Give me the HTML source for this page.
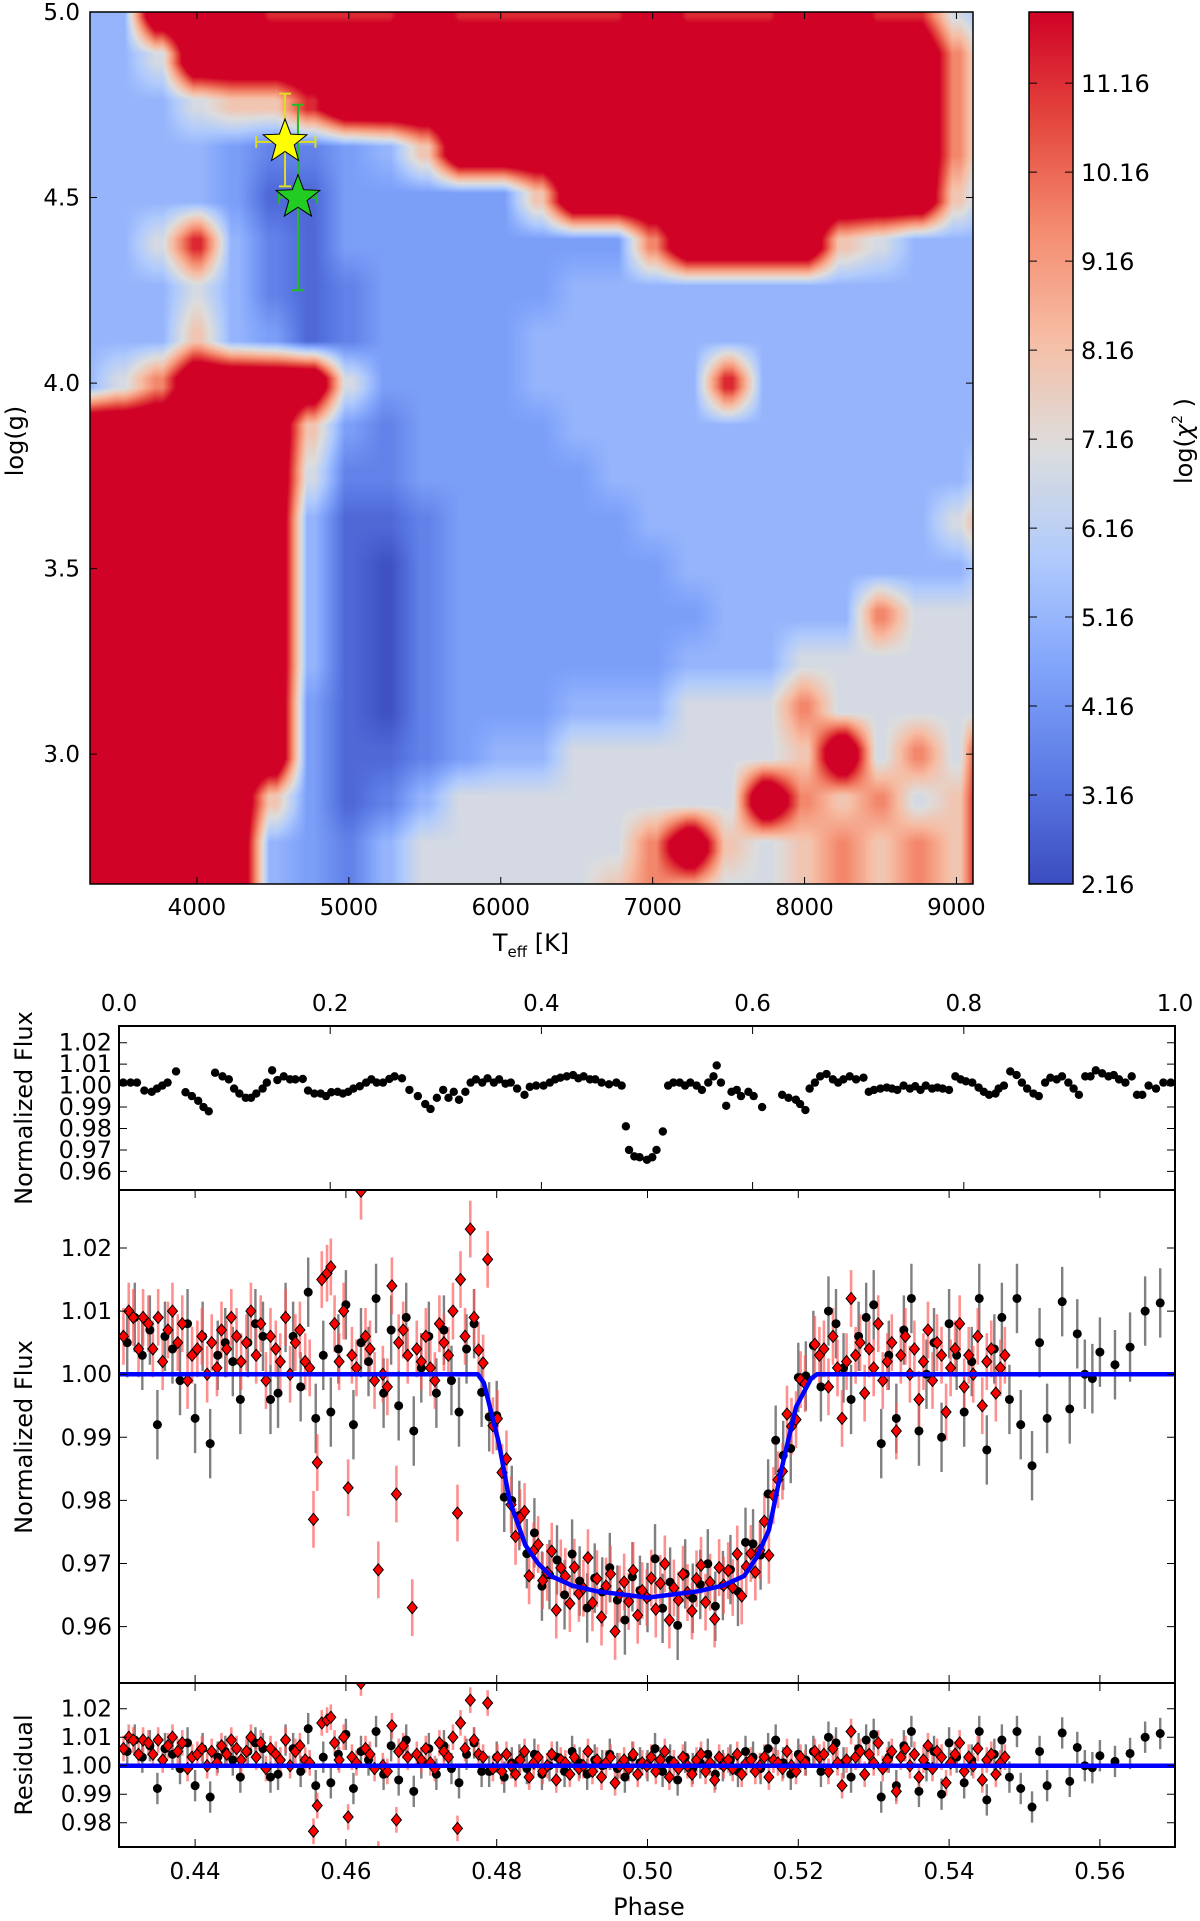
<!DOCTYPE html>
<html><head><meta charset="utf-8">
<style>
html,body{margin:0;padding:0;background:#fff;}
#wrap{position:relative;width:1200px;height:1921px;overflow:hidden;font-family:"DejaVu Sans","Liberation Sans",sans-serif;}
canvas{position:absolute;}
svg{position:absolute;left:0;top:0;}
text{font-family:"DejaVu Sans","Liberation Sans",sans-serif;fill:#000;}
</style></head>
<body>
<div id="wrap">
<canvas id="heat" width="883" height="872" style="left:90px;top:12px"></canvas>
<canvas id="cbar" width="44" height="872" style="left:1029px;top:12px"></canvas>
<svg id="chart" width="1200" height="1921"></svg>
</div>
<script>
// ---------- heatmap data ----------
const teffGrid=[3250,3500,3750,4000,4250,4500,4750,5000,5250,5500,5750,6000,6250,6500,6750,7000,7250,7500,7750,8000,8250,8500,8750,9000,9250];
const loggGrid=[5.0,4.875,4.75,4.625,4.5,4.375,4.25,4.125,4.0,3.875,3.75,3.625,3.5,3.375,3.25,3.125,3.0,2.875,2.75,2.625,2.5];
const levelValues=[2.3,2.9,3.6,4.4,5.1,6.8,8.0,9.6,11.3,15];
const r5000=[4,4,9,9,9,8,8,8,8,9,8,8,8,8,8,9,8,8,8,9,9,8,8,5,4];
const r4875=[4,4,5,9,9,9,9,9,9,9,9,9,9,9,9,9,9,9,9,9,9,9,9,7,4];
const r4750=[4,4,4,5,6,6,8,9,9,9,9,9,9,9,9,9,9,9,9,9,9,9,9,7,4];
const r4625=[4,4,4,4,3,2,2,3,4,6,9,9,9,9,9,9,9,9,9,9,9,9,9,7,4];
const r4500=[4,4,4,4,3,1,1,3,3,3,3,3,6,9,9,9,9,9,9,9,9,9,9,6,4];
const r4375=[4,4,5,8,4,2,1,3,3,3,3,3,3,3,3,7,9,9,9,9,6,5,4,4,4];
const r4250=[4,4,4,5,4,2,1,2,3,3,3,3,3,4,4,4,4,4,4,4,4,4,4,4,4];
const r4125=[4,4,4,6,4,3,1,2,3,3,3,3,4,4,4,4,4,4,4,4,4,4,4,4,4];
const r4000=[4,5,7,9,9,9,9,5,3,3,3,3,4,4,4,4,4,8,4,4,4,4,4,4,4];
const r3875=[9,9,9,9,9,9,6,3,2,3,3,3,3,4,4,4,4,4,4,4,4,4,4,4,4];
const r3750=[9,9,9,9,9,9,5,2,2,3,3,3,3,3,4,4,4,4,4,4,4,4,4,4,5];
const r3625=[9,9,9,9,9,9,4,1,1,2,3,3,3,3,3,4,4,4,4,4,4,4,4,5,7];
const r3500=[9,9,9,9,9,9,4,1,0,2,3,3,3,3,3,3,4,4,4,4,4,4,4,4,5];
const r3375=[9,9,9,9,9,9,4,1,0,2,3,3,3,3,3,3,3,4,4,4,4,7,5,5,5];
const r3250=[9,9,9,9,9,9,4,1,0,2,3,3,3,3,3,3,4,4,4,5,5,5,5,5,5];
const r3125=[9,9,9,9,9,9,3,1,0,2,3,3,3,4,4,4,5,5,5,7,5,5,5,5,5];
const r3000=[9,9,9,9,9,9,3,1,1,2,3,4,4,5,5,5,5,5,5,6,9,5,7,5,9];
const r2875=[9,9,9,9,9,6,3,1,2,4,5,5,5,5,5,5,5,5,9,7,6,7,5,6,9];
const r2750=[9,9,9,9,9,4,3,2,4,5,5,5,5,5,5,7,9,6,5,6,7,6,7,6,9];
const r2625=[9,9,9,9,9,4,3,2,4,5,5,5,5,5,6,7,6,5,5,6,7,6,7,6,9];
const r2500=[9,9,9,9,9,4,3,2,4,5,5,5,5,5,6,7,6,5,5,6,7,6,7,6,9];
const chiRows=[r5000,r4875,r4750,r4625,r4500,r4375,r4250,r4125,r4000,r3875,r3750,r3625,r3500,r3375,r3250,r3125,r3000,r2875,r2750,r2625,r2500];
const cbarTicks=[2.16,3.16,4.16,5.16,6.16,7.16,8.16,9.16,10.16,11.16];
const teffTicks=[4000,5000,6000,7000,8000,9000];
const loggTicks=[3.0,3.5,4.0,4.5,5.0];
// stars: [teff, logg, teffErrLo, teffErrHi, loggErrLo, loggErrHi]
const starYellow=[4580,4.65,4390,4780,4.53,4.78];
const starGreen=[4665,4.50,4540,4790,4.25,4.75];

// ---------- light curve data ----------
const topPhase=[.004,.011,.017,.024,.031,.036,.041,.046,.054,.063,.069,.075,.080,.085,.091,.098,.104,.109,.114,.120,.125,.130,.136,.140,.145,.150,.156,.162,.167,.174,.179,.185,.191,.196,.201,.207,.212,.217,.222,.228,.234,.239,.244,.250,.256,.261,.268,.275,.283,.290,.295,.301,.307,.312,.317,.322,.328,.333,.338,.344,.349,.355,.360,.366,.371,.377,.384,.389,.395,.402,.408,.413,.418,.424,.430,.435,.440,.446,.451,.457,.464,.471,.476,.480,.483,.488,.493,.500,.505,.509,.515,.520,.525,.531,.536,.541,.547,.552,.558,.563,.566,.570,.575,.580,.585,.589,.596,.601,.609,.628,.634,.641,.645,.650,.654,.659,.664,.670,.676,.681,.686,.692,.698,.705,.710,.715,.721,.727,.732,.737,.743,.749,.754,.759,.764,.770,.775,.780,.786,.792,.797,.802,.808,.814,.819,.824,.830,.833,.838,.844,.850,.855,.860,.866,.871,.877,.882,.888,.893,.899,.904,.909,.915,.920,.925,.931,.937,.942,.947,.953,.959,.964,.969,.975,.982,.989,.996];
const topFluxMilli=[1.4,1.4,1.4,-2.3,-2.9,-1.4,0,1.4,6.6,-3.1,-4.9,-7.1,-10,-12,6,4.3,2.9,-1.4,-3.7,-5.7,-5.7,-3.7,-1.4,1.4,7.1,2.6,4.3,2.9,2.9,3.1,-2.3,-3.7,-3.7,-4.9,-3.1,-2.9,-3.7,-2.9,-1.4,-0.3,1.4,2.9,1.4,1.4,3.1,4.3,3.4,-2,-4.9,-8.6,-10.9,-5.7,-2,-5.7,-2.9,-6.6,-2.9,1.4,2.9,1.4,3.4,1.4,2.9,0.9,1.4,-1.4,-4.3,-0.6,0,0,1.4,2.9,3.7,4.3,4.9,3.4,4.3,2.9,2.9,1.4,0.6,1.4,0,-19,-30,-33,-33.4,-34.6,-33.4,-30,-21.4,0,1.4,1.4,0,1.4,0,-2,1.4,4.3,9.4,1.4,-9.4,-2.9,-2,-4.9,-2.9,-4.9,-10,-4.3,-5.7,-6.6,-8.6,-11.4,-1.4,1.4,4.3,5.4,2.9,1.4,2.9,4.3,2.9,3.7,-2.9,-2,-1.4,-0.9,-1.4,-2,0,-1.4,-0.3,-2,0,-1.4,-0.9,-1.4,-2,4.3,2.9,2,1.4,-0.9,-2.9,-4.3,-3.7,-1.4,0,6.6,4.9,1.4,-1.4,-3.7,-4.9,1.4,3.7,2.9,4.3,1.4,-1.4,-4.3,4.3,4.3,7.1,5.7,4.3,4.9,2.9,1.4,4.3,-4.3,-4.3,0,-1.4,1.4,1.4];

const modelPhase=[0.43,0.4775,0.4783,0.4803,0.4817,0.4838,0.4855,0.4872,0.4900,0.4933,0.5000,0.5067,0.5100,0.5128,0.5145,0.5161,0.5177,0.5197,0.5217,0.5225,0.57];
const modelFlux=[1,1,0.9986,0.989,0.980,0.9729,0.970,0.968,0.9665,0.9656,0.9646,0.9656,0.9665,0.968,0.971,0.9753,0.9846,0.9948,0.9993,1,1];

const redPhase=[0.4305,0.4312,0.4318,0.4325,0.4331,0.4338,0.4344,0.4351,0.4357,0.4364,0.4370,0.4377,0.4383,0.4390,0.4396,0.4403,0.4409,0.4416,0.4422,0.4429,0.4435,0.4442,0.4448,0.4455,0.4461,0.4468,0.4474,0.4481,0.4487,0.4494,0.4500,0.4507,0.4513,0.4520,0.4526,0.4533,0.4539,0.4546,0.4552,0.4557,0.4562,0.4568,0.4575,0.4580,0.4585,0.4591,0.4597,0.4603,0.4608,0.4614,0.4620,0.4626,0.4632,0.4638,0.4643,0.4649,0.4655,0.4661,0.4667,0.4670,0.4676,0.4682,0.4688,0.4694,0.4700,0.4706,0.4712,0.4718,0.4724,0.4730,0.4736,0.4742,0.4748,0.4752,0.4758,0.4765,0.4770,0.4776,0.4782,0.4788,
0.4795,0.4801,0.4807,0.4813,0.4819,0.4825,0.4831,0.4837,0.4843,0.4849,0.4855,0.4861,0.4867,0.4873,0.4879,0.4885,0.4891,0.4897,0.4903,0.4909,0.4915,0.4921,0.4927,0.4933,0.4939,0.4945,0.4951,0.4957,0.4963,0.4969,0.4975,0.4981,0.4987,0.4993,0.4999,0.5005,0.5011,0.5017,0.5023,0.5029,0.5035,0.5041,0.5047,0.5053,0.5059,0.5065,0.5071,0.5077,0.5083,0.5089,0.5095,0.5101,0.5107,0.5113,0.5119,0.5125,0.5131,0.5137,0.5143,0.5149,0.5155,0.5161,0.5167,0.5173,0.5179,0.5185,0.5191,0.5197,0.5203,0.5209,
0.5222,0.5228,0.5234,0.5240,0.5246,0.5252,0.5258,0.5264,0.5270,0.5276,0.5282,0.5288,0.5294,0.5300,0.5306,0.5312,0.5318,0.5324,0.5330,0.5336,0.5342,0.5348,0.5354,0.5360,0.5366,0.5372,0.5378,0.5384,0.5390,0.5396,0.5402,0.5408,0.5414,0.5420,0.5426,0.5432,0.5438,0.5444,0.5450,0.5456,0.5462,0.5468,0.5474];
const redResidMilli=[6,10,9,4,9,8,4,9,2,7,10,5,8,-1,3,4,6,0,5,1,7,4,9,6,2,5,10,3,8,-1,6,4,2,9,0,5,7,2,1,-23,-14,15,16,17,8,2,10,-18,3,1,29,6,4,-1,-31,0,-2,14,-19,5,7,3,-37,4,2,6,1,-1,8,5,3,10,-22,15,6,23,9,4,3,22,
-1,3,-2,4,0,-3,2,5,-4,1,3,-2,0,4,-5,2,1,-3,3,-1,0,5,-2,2,-4,1,3,-6,0,2,-1,4,-3,1,0,3,-2,2,5,-4,1,-1,3,0,-3,2,4,-2,1,-5,3,0,2,-1,4,-3,1,2,-2,0,3,-4,2,1,-1,5,0,-2,3,1,
5,3,4,-2,6,1,-7,2,12,3,5,-3,4,1,8,-1,2,5,-9,3,6,0,4,-4,2,7,-1,5,3,-6,1,4,8,-2,3,0,6,-5,2,4,-3,1,3];

const blackPhase=[0.431,0.432,0.433,0.434,0.435,0.436,0.437,0.438,0.439,0.440,0.441,0.442,0.443,0.444,0.445,0.446,0.447,0.448,0.449,0.450,0.451,0.452,0.453,0.454,0.455,0.456,0.457,0.458,0.459,0.460,0.461,0.462,0.463,0.464,0.465,0.466,0.467,0.468,0.469,0.470,0.471,0.472,0.473,0.474,0.475,0.476,0.477,0.478,
0.479,0.480,0.481,0.482,0.483,0.484,0.485,0.486,0.487,0.488,0.489,0.490,0.491,0.492,0.493,0.494,0.495,0.496,0.497,0.498,0.499,0.500,0.501,0.502,0.503,0.504,0.505,0.506,0.507,0.508,0.509,0.510,0.511,0.512,0.513,0.514,0.515,0.516,0.517,0.518,0.519,0.520,0.521,
0.522,0.523,0.524,0.525,0.526,0.527,0.528,0.529,0.530,0.531,0.532,0.533,0.534,0.535,0.536,0.537,0.538,0.539,0.540,0.541,0.542,0.543,0.544,0.545,0.546,0.547,0.548,
0.549,0.5495,0.551,0.552,0.553,0.555,0.556,0.557,0.558,0.559,0.560,0.562,0.564,0.566,0.568];
const blackResidMilli=[5,9,3,7,-8,6,4,-1,8,-7,6,-11,3,5,2,-4,5,8,6,-4,-3,9,6,-2,13,-7,3,-6,4,11,-8,5,2,12,-3,7,-5,9,-9,1,6,-3,7,-1,-6,4,8,-2,
-2,3,-4,1,2,-1,4,-3,0,3,-2,5,1,-3,2,0,4,-1,-4,3,1,0,6,-2,2,-5,3,-1,1,4,-3,0,2,-2,5,3,-1,6,9,1,-3,4,2,
5,-2,10,8,1,-4,6,9,11,-11,3,-7,7,12,-9,0,5,-10,8,3,-6,2,12,-12,4,9,-4,
12,-8,-14.5,5,-7,11.5,-5.5,6.4,0,-0.7,3.5,1.5,4.3,10,11.3];
const redErr=0.0045, blackErr=0.0055;
const topTicks=[0.0,0.2,0.4,0.6,0.8,1.0];
const phaseTicks=[0.44,0.46,0.48,0.50,0.52,0.54,0.56];
const p1Ticks=[0.96,0.97,0.98,0.99,1.00,1.01,1.02];
const p2Ticks=[0.96,0.97,0.98,0.99,1.00,1.01,1.02];
const p3Ticks=[0.98,0.99,1.00,1.01,1.02];

// ---------- colormap ----------
const cmStops=[[0,59,76,192],[0.125,92,123,229],[0.25,130,165,251],[0.375,177,203,252],[0.5,221,221,221],[0.625,246,190,165],[0.75,244,140,112],[0.875,228,72,62],[1,208,2,38]];
function cmap(t){
  if(t<=0) return cmStops[0].slice(1);
  if(t>=1) return cmStops[cmStops.length-1].slice(1);
  for(let i=1;i<cmStops.length;i++){
    if(t<=cmStops[i][0]){const a=cmStops[i-1],b=cmStops[i];const f=(t-a[0])/(b[0]-a[0]);
      return [a[1]+(b[1]-a[1])*f,a[2]+(b[2]-a[2])*f,a[3]+(b[3]-a[3])*f];}
  }
}
const vMin=2.16, vMax=11.96;
function colorOf(v){return cmap((v-vMin)/(vMax-vMin));}

// ---------- heatmap axes ----------
const hmLeft=90,hmTop=12,hmW=883,hmH=872;
const tMin=3296,tMax=9109,gMin=2.65,gMax=5.0;
function xT(T){return hmLeft+(T-tMin)/(tMax-tMin)*hmW;}
function yG(g){return hmTop+(gMax-g)/(gMax-gMin)*hmH;}
function sharp(a){return Math.max(0,Math.min(1,(a-0.1)/0.8));}
function gridVal(T,g){
  let fi=(T-teffGrid[0])/(teffGrid[1]-teffGrid[0]);
  let fj=(loggGrid[0]-g)/(loggGrid[0]-loggGrid[1]);
  fi=Math.max(0,Math.min(teffGrid.length-1.0001,fi));
  fj=Math.max(0,Math.min(loggGrid.length-1.0001,fj));
  const i=Math.floor(fi),j=Math.floor(fj),a=sharp(fi-i),b=sharp(fj-j);
  const v00=levelValues[chiRows[j][i]],v10=levelValues[chiRows[j][i+1]],v01=levelValues[chiRows[j+1][i]],v11=levelValues[chiRows[j+1][i+1]];
  return v00*(1-a)*(1-b)+v10*a*(1-b)+v01*(1-a)*b+v11*a*b;
}
(function(){
  const c=document.getElementById('heat').getContext('2d');
  const img=c.createImageData(hmW,hmH);
  for(let py=0;py<hmH;py++){
    const g=gMax-(py+0.5)/hmH*(gMax-gMin);
    for(let px=0;px<hmW;px++){
      const T=tMin+(px+0.5)/hmW*(tMax-tMin);
      const col=colorOf(gridVal(T,g));
      const k=(py*hmW+px)*4;
      img.data[k]=col[0];img.data[k+1]=col[1];img.data[k+2]=col[2];img.data[k+3]=255;
    }
  }
  c.putImageData(img,0,0);
  const cb=document.getElementById('cbar').getContext('2d');
  for(let py=0;py<hmH;py++){
    const v=vMax-(py+0.5)/hmH*(vMax-vMin);
    const col=colorOf(v);
    cb.fillStyle='rgb('+Math.round(col[0])+','+Math.round(col[1])+','+Math.round(col[2])+')';
    cb.fillRect(0,py,44,1);
  }
})();

// ---------- svg helpers ----------
const NS='http://www.w3.org/2000/svg';
const svg=document.getElementById('chart');
function mk(tag,attrs,parent){const e=document.createElementNS(NS,tag);for(const k in attrs)e.setAttribute(k,attrs[k]);(parent||svg).appendChild(e);return e;}
function txt(s,x,y,size,anchor,parent){const t=mk('text',{x:x,y:y,'font-size':size,'text-anchor':anchor||'middle'},parent);t.textContent=s;return t;}

let e;
e=mk('rect',{x:hmLeft,y:hmTop,width:hmW,height:hmH,fill:'none',stroke:'#000','stroke-width':1.5});


teffTicks.forEach(T=>{
  const x=xT(T);
  e=mk('path',{d:'M'+x+' '+(hmTop+hmH)+'v-7M'+x+' '+hmTop+'v7',stroke:'#000','stroke-width':1});
  
  
  e=txt(String(T),x,hmTop+hmH+31,23);
  
  
});
loggTicks.forEach(g=>{
  const y=yG(g);
  e=mk('path',{d:'M'+hmLeft+' '+y+'h7M'+(hmLeft+hmW)+' '+y+'h-7',stroke:'#000','stroke-width':1});
  
  
  e=txt(g.toFixed(1),80,y+8,23,'end');
  
  
});
e=mk('text',{x:531,y:951,'font-size':24,'text-anchor':'middle'});
e.innerHTML='T<tspan font-size="15" dy="6">eff</tspan><tspan dy="-6"> [K]</tspan>';


e=txt('log(g)',0,0,24,'middle');
e.setAttribute('transform','translate(23,441) rotate(-90)');



function star(cx,cy,r,fill){
  let d='';
  for(let i=0;i<10;i++){const a=-Math.PI/2+i*Math.PI/5;const rr=i%2?r*0.42:r;d+=(i?'L':'M')+(cx+rr*Math.cos(a)).toFixed(1)+' '+(cy+rr*Math.sin(a)).toFixed(1);}
  return mk('path',{d:d+'Z',fill:fill,stroke:'#000','stroke-width':1});
}
function starWithErr(arr,col,fill,name){
  const cx=xT(arr[0]),cy=yG(arr[1]);
  const x1=xT(arr[2]),x2=xT(arr[3]),y1=yG(arr[4]),y2=yG(arr[5]);
  e=mk('path',{d:'M'+x1+' '+cy+'H'+x2+'M'+x1+' '+(cy-6)+'v12M'+x2+' '+(cy-6)+'v12M'+cx+' '+y1+'V'+y2+'M'+(cx-6)+' '+y1+'h12M'+(cx-6)+' '+y2+'h12',stroke:col,'stroke-width':2,fill:'none'});
  
  
  e=star(cx,cy,23,fill);
  
  
}
starWithErr(starGreen,'#22bb22','#22cc22','green-star');
starWithErr(starYellow,'#dddd22','#ffff00','yellow-star');

e=mk('rect',{x:1029,y:12,width:44,height:872,fill:'none',stroke:'#000','stroke-width':1.5});


function yC(v){return 12+(vMax-v)/(vMax-vMin)*872;}
cbarTicks.forEach(v=>{
  const y=yC(v);
  e=mk('path',{d:'M1073 '+y+'h-8M1029 '+y+'h8',stroke:'#000','stroke-width':1});
  
  
  e=txt(v.toFixed(2),1081,y+9,24,'start');
  
  
});
e=mk('text',{x:0,y:0,'font-size':24,'text-anchor':'middle',transform:'translate(1192,441) rotate(-90)'});
e.innerHTML='log(<tspan font-style="italic">χ</tspan><tspan font-size="14" dy="-10">2</tspan><tspan dy="10"> )</tspan>';



// ---------- light curve axes ----------
const pL=119,pR=1175;
function xTop(p){return pL+p*(pR-pL);}
function xP(p){return 195.1+(p-0.44)*7540;}
function y1(f){return 1085.6-(f-1)*2145;}
function y2(f){return 1374.2-(f-1)*6310;}
function y3(f){return 1765.7-(f-1)*2850;}
function modelAt(p){
  if(p<=modelPhase[0])return modelFlux[0];
  for(let i=1;i<modelPhase.length;i++){if(p<=modelPhase[i]){const f=(p-modelPhase[i-1])/(modelPhase[i]-modelPhase[i-1]);return modelFlux[i-1]+(modelFlux[i]-modelFlux[i-1])*f;}}
  return modelFlux[modelFlux.length-1];
}
const defs=mk('defs',{});
[['c1',1026,164],['c2',1190,493],['c3',1683,164]].forEach(a=>{
  const cp=mk('clipPath',{id:a[0]},defs);mk('rect',{x:pL,y:a[1],width:pR-pL,height:a[2]},cp);
});
const g1=mk('g',{'clip-path':'url(#c1)'});


const g2=mk('g',{'clip-path':'url(#c2)'});


const g3=mk('g',{'clip-path':'url(#c3)'});



const nTop=Math.min(topPhase.length,topFluxMilli.length);
for(let i=0;i<nTop;i++){
  e=mk('circle',{cx:xTop(topPhase[i]),cy:y1(1+topFluxMilli[i]/1000),r:4.2,fill:'#000'},g1);
  
  
}
const nB=Math.min(blackPhase.length,blackResidMilli.length);
const nR=Math.min(redPhase.length,redResidMilli.length);
function drawSeries(g,yf,useModel){
  for(let i=0;i<nB;i++){
    const p=blackPhase[i];const f=(useModel?modelAt(p):1)+blackResidMilli[i]/1000;const x=xP(p);
    e=mk('line',{x1:x,x2:x,y1:yf(f-blackErr),y2:yf(f+blackErr),stroke:'#555','stroke-width':2.4,'stroke-opacity':0.75},g);
    
    
  }
  for(let i=0;i<nR;i++){
    const p=redPhase[i];const f=(useModel?modelAt(p):1)+redResidMilli[i]/1000;const x=xP(p);
    e=mk('line',{x1:x,x2:x,y1:yf(f-redErr),y2:yf(f+redErr),stroke:'#ff5555','stroke-width':2.6,'stroke-opacity':0.65},g);
    
    
  }
  for(let i=0;i<nB;i++){
    const p=blackPhase[i];const f=(useModel?modelAt(p):1)+blackResidMilli[i]/1000;
    e=mk('circle',{cx:xP(p),cy:yf(f),r:4.5,fill:'#000'},g);
    
    
  }
  for(let i=0;i<nR;i++){
    const p=redPhase[i];const f=(useModel?modelAt(p):1)+redResidMilli[i]/1000;const x=xP(p),y=yf(f);
    e=mk('path',{d:'M'+x+' '+(y-6)+'L'+(x+5)+' '+y+'L'+x+' '+(y+6)+'L'+(x-5)+' '+y+'Z',fill:'#ff0000',stroke:'#000','stroke-width':1},g);
    
    
  }
}
drawSeries(g2,y2,true);
drawSeries(g3,y3,false);
let md='';
modelPhase.forEach((p,i)=>{md+=(i?'L':'M')+xP(p).toFixed(1)+' '+y2(modelFlux[i]).toFixed(1);});
e=mk('path',{d:md,fill:'none',stroke:'#0000ff','stroke-width':4.5,'stroke-linejoin':'round'},g2);


e=mk('line',{x1:xP(0.43),x2:xP(0.57),y1:y3(1),y2:y3(1),stroke:'#0000ff','stroke-width':4.5},g3);



[[1026,164,'full-phase-frame'],[1190,493,'transit-frame'],[1683,164,'residual-frame']].forEach(a=>{
  e=mk('rect',{x:pL,y:a[0],width:pR-pL,height:a[1],fill:'none',stroke:'#000','stroke-width':2});
  
  
});
topTicks.forEach(p=>{
  const x=xTop(p);
  e=mk('path',{d:'M'+x+' 1026v8M'+x+' 1190v-8',stroke:'#000','stroke-width':1});
  
  
  e=txt(p.toFixed(1),x,1011,23);
  
  
});
phaseTicks.forEach(p=>{
  const x=xP(p);
  e=mk('path',{d:'M'+x+' 1190v8M'+x+' 1683v-8M'+x+' 1683v8M'+x+' 1847v-8',stroke:'#000','stroke-width':1});
  
  
  e=txt(p.toFixed(2),x,1879,23);
  
  
});
function yTicks(arr,yf,name,size){
  arr.forEach(v=>{
    const y=yf(v);
    e=mk('path',{d:'M'+pL+' '+y+'h8M'+pR+' '+y+'h-8',stroke:'#000','stroke-width':1});
    
    
    e=txt(v.toFixed(2),112,y+8,size,'end');
    
    
  });
}
yTicks(p1Ticks,y1,'full-flux',24);
yTicks(p2Ticks,y2,'transit-flux',23);
yTicks(p3Ticks,y3,'residual',23);
e=txt('Normalized Flux',0,0,24);
e.setAttribute('transform','translate(32,1108) rotate(-90)');


e=txt('Normalized Flux',0,0,24);
e.setAttribute('transform','translate(32,1437) rotate(-90)');


e=txt('Residual',0,0,24);
e.setAttribute('transform','translate(32,1765) rotate(-90)');


e=txt('Phase',649,1915,24);


</script>
</body></html>
